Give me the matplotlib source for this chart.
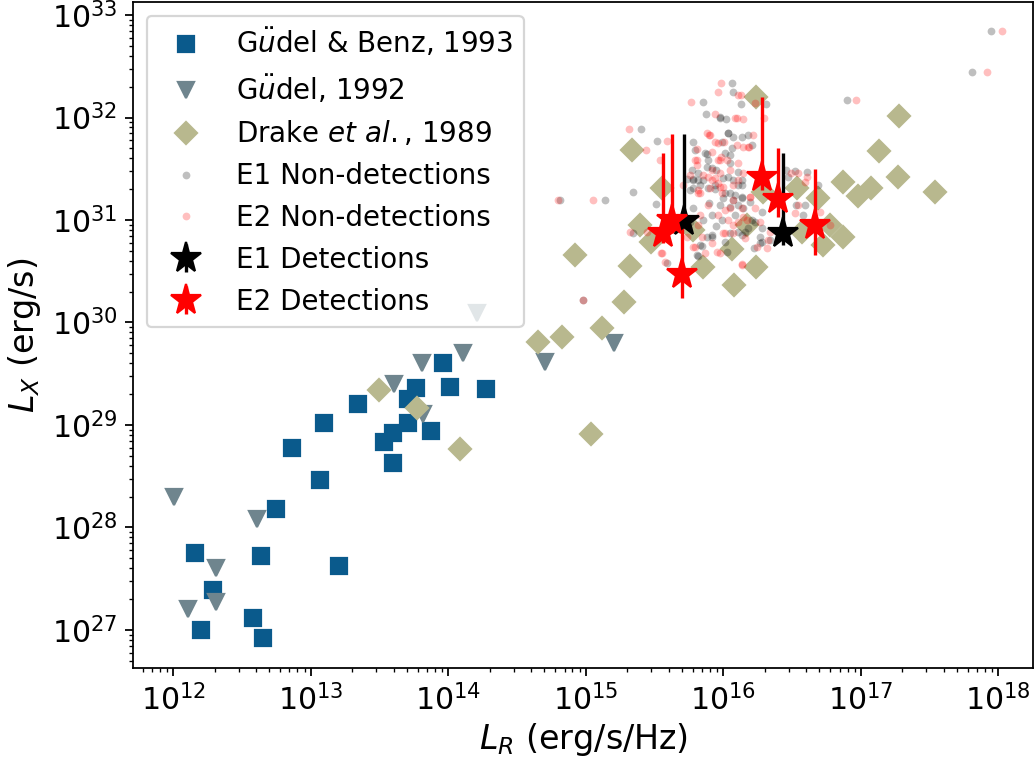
import numpy as np
import matplotlib
matplotlib.use("Agg")
import matplotlib.pyplot as plt

# ---- Data (log10 values) ----
# Gudel & Benz 1993 (squares)
gb93_logLR = [12.158, 12.287, 12.199, 12.577, 12.655, 12.636, 12.747, 13.067, 12.865, 13.096, 13.205,
              13.345, 13.535, 13.596, 13.596, 13.705, 13.705, 13.765, 13.874, 13.964, 14.012, 14.274]
gb93_logLX = [27.748, 27.390, 27.000, 27.120, 26.919, 27.725, 28.178, 28.463, 28.773, 29.017, 27.627,
              29.205, 28.831, 28.925, 28.632, 29.022, 29.254, 29.361, 28.944, 29.602, 29.371, 29.351]

# Gudel 1992 (triangles)
g92_logLR = [12.007, 12.607, 12.308, 12.109, 12.308, 13.605, 13.807, 14.105, 13.818, 14.207, 14.703, 15.205]
g92_logLX = [28.300, 28.083, 27.602, 27.202, 27.276, 29.400, 29.602, 29.700, 29.105, 30.096, 29.615, 29.800]

# Drake et al. 1989 (diamonds)
d89_logLR = [13.496, 13.770, 14.085, 14.655, 14.825, 15.038, 15.116, 15.280, 14.921, 15.321, 15.334,
             15.394, 15.472, 15.552, 15.782, 15.855, 16.061, 16.080, 16.170, 16.236, 16.236, 16.534,
             16.570, 16.691, 16.727, 16.776, 16.873, 16.868, 16.982, 17.076, 17.132, 17.271, 17.280,
             17.540, 16.289]
d89_logLX = [29.341, 29.163, 28.763, 29.813, 29.861, 28.912, 29.943, 30.203, 30.659, 30.551, 31.683,
             30.951, 30.788, 31.309, 30.902, 30.544, 30.714, 30.366, 30.951, 30.539, 32.203, 31.309,
             30.886, 31.212, 30.756, 30.951, 30.837, 31.368, 31.234, 31.309, 31.676, 31.417, 32.018,
             31.276, 31.273]

# E1 non-detections
e1n_logLR = [17.945, 17.809, 16.902, 14.812, 15.139, 15.399, 15.341, 14.979, 15.516, 15.511, 15.345,
             15.819, 16.065, 16.072, 16.126, 15.855, 15.872, 15.976, 15.778, 16.031, 15.988, 16.060,
             16.048, 15.891, 15.946, 16.048, 15.819, 15.776, 15.758, 15.940, 16.036, 16.108, 16.133,
             16.085, 16.310, 16.019, 16.177, 16.206, 15.879, 15.915, 15.782, 15.738, 15.831, 16.000,
             16.073, 15.940, 16.048, 16.133, 16.000, 15.898, 16.048, 16.145, 15.915, 15.988, 16.206,
             15.855, 16.278, 16.339, 16.267, 16.133, 16.048, 15.915, 15.843, 16.521, 16.456, 16.473,
             16.607, 16.692, 16.194, 16.278, 16.230, 16.157, 16.280, 16.223, 16.532, 16.593, 16.580,
             16.108, 15.782, 16.108, 16.073, 15.976, 15.831, 15.807, 15.589, 16.025,
             15.973, 15.819, 15.879, 16.133, 16.108, 16.133, 15.915, 16.036, 16.267,
             15.795, 15.867, 16.012, 15.879, 15.770, 15.855, 15.782, 16.012, 15.891, 16.073, 16.133,
             15.946, 16.085, 16.180, 15.758, 16.012]
e1n_logLX = [32.841, 32.444, 32.171, 31.195, 31.195, 31.888, 31.270, 30.220, 31.771, 31.156, 30.870,
             30.648, 32.340, 32.252, 32.129, 32.148, 32.031, 31.992, 31.764, 31.846, 31.764, 31.700,
             31.634, 31.585, 31.488, 31.553, 31.390, 31.390, 31.293, 31.341, 31.422, 31.471, 31.341,
             31.244, 32.129, 31.983, 31.829, 31.732, 31.644, 31.505, 31.397, 31.397, 31.341, 31.407,
             31.390, 31.300, 31.261, 31.212, 31.212, 31.163, 31.130, 31.114, 31.049, 31.000, 31.000,
             31.000, 30.919, 30.805, 30.837, 30.854, 30.870, 30.837, 30.746, 31.480, 31.483, 31.422,
             31.471, 31.341, 31.178, 31.081, 30.983, 30.886, 30.785, 30.724, 31.146, 31.146, 31.049,
             30.886, 31.114, 31.146, 31.195, 31.146, 30.756, 30.659, 30.578, 30.691,
             32.002, 31.455, 30.837, 31.390, 31.341, 31.227, 30.854, 31.846, 30.776,
             31.683, 31.651, 31.651, 31.520, 31.488, 31.390, 31.309, 31.260, 31.309, 31.813, 31.813,
             30.941, 31.049, 30.922, 30.980, 30.785]

# E2 non-detections
e2n_logLR = [18.027, 17.920, 16.963, 14.800, 15.055, 15.312, 14.979, 15.981, 15.762, 15.959, 16.108,
             15.940, 16.085, 16.145, 15.435, 15.589, 15.807, 15.898, 15.940, 16.008, 15.983, 15.794,
             15.915, 15.855, 15.964, 16.000, 16.073, 15.819, 15.540, 16.145, 16.182, 15.973, 16.108,
             16.145, 15.976, 15.758, 15.915, 15.904, 15.819, 16.194, 16.073, 16.145, 16.012, 15.964,
             16.230, 16.073, 15.819, 15.734, 16.000, 16.339, 16.243, 15.782, 16.545, 16.218, 16.298,
             16.101, 16.230, 16.607, 16.593, 16.133, 16.170, 16.108, 16.326, 16.314, 16.521, 16.545,
             16.776, 16.703, 16.133, 15.442, 15.321, 15.988, 16.048, 15.831, 15.843, 16.073, 15.951,
             15.552, 15.576, 15.976, 15.867,
             15.904, 15.964, 15.807, 15.976, 16.130, 16.101, 16.189, 16.494, 16.191, 15.831, 16.012,
             15.794, 15.546, 16.138,
             15.879, 15.915, 15.964, 16.025, 15.891, 15.940, 16.048, 16.108, 15.807, 15.709,
             15.886, 16.036, 16.157, 15.918, 16.267]
e2n_logLX = [32.841, 32.444, 32.171, 31.195, 31.195, 31.888, 30.220, 32.340, 32.148, 32.252, 32.220,
             32.031, 31.998, 31.982, 31.683, 31.771, 31.690, 31.829, 31.764, 31.764, 31.612, 31.585,
             31.488, 31.439, 31.358, 31.325, 31.341, 31.293, 31.585, 31.716, 31.716, 31.585, 31.553,
             31.455, 31.455, 31.439, 31.390, 31.309, 31.261, 31.227, 31.195, 31.032, 31.097, 31.049,
             31.114, 30.951, 30.951, 30.837, 30.870, 30.886, 30.740, 30.740, 31.455, 31.829, 31.992,
             31.732, 32.139, 31.422, 31.373, 31.114, 31.000, 30.983, 30.805, 30.724, 31.065, 31.146,
             30.951, 31.081, 30.561, 30.886, 30.886, 31.261, 31.114, 31.049, 30.837, 30.870, 30.691,
             30.675, 30.593, 30.681, 30.681,
             31.829, 31.747, 31.585, 31.325, 32.220, 31.992, 31.716, 31.455, 31.227, 31.261, 30.870,
             30.740, 30.675, 30.568,
             31.846, 31.667, 31.585, 31.585, 31.422, 31.407, 31.488, 31.390, 31.537, 31.341,
             31.146, 31.000, 30.824, 30.776, 30.980]

# E1 detections (log values, with lower/upper bounds)
e1d_logLR = [15.716, 16.436]
e1d_logLX = [30.990, 30.876]
e1d_lo = [30.922, 30.756]
e1d_hi = [31.839, 31.651]

# E2 detections
e2d_logLR = [15.564, 15.625, 15.697, 16.284, 16.400, 16.667]
e2d_logLX = [30.870, 31.000, 30.473, 31.417, 31.202, 30.951]
e2d_lo = [30.776, 30.873, 30.239, 31.293, 31.032, 30.659]
e2d_hi = [31.651, 31.839, 30.922, 32.203, 31.700, 31.495]

labels = [r"G$\ddot{u}$del & Benz, 1993", r"G$\ddot{u}$del, 1992", r"Drake $et\ al.$, 1989",
          "E1 Non-detections", "E2 Non-detections", "E1 Detections", "E2 Detections"]


def p(a):
    return 10.0 ** np.asarray(a, dtype=float)


plt.rcParams['font.family'] = ['DejaVu Sans']
fig = plt.figure(figsize=(1035 / 160, 761 / 160), dpi=160)
ax = fig.add_axes([133 / 1035, (761 - 668.3) / 761, (1033 - 133) / 1035, (668.3 - 2) / 761])

h1, = ax.plot(p(gb93_logLR), p(gb93_logLX), 's', color='#0a5a8c', ms=7.5, mec='#0a5a8c', ls='none')
h2, = ax.plot(p(g92_logLR), p(g92_logLX), 'v', color='#6f858e', ms=7.5, ls='none')
h3, = ax.plot(p(d89_logLR), p(d89_logLX), 'D', color='#b8b88e', ms=6.8, ls='none')
h4, = ax.plot(p(e1n_logLR), p(e1n_logLX), 'o', color='k', alpha=0.25, ms=3.5, mew=0, ls='none')
h5, = ax.plot(p(e2n_logLR), p(e2n_logLX), 'o', color='r', alpha=0.25, ms=3.5, mew=0, ls='none')

y1 = p(e1d_logLX)
h6 = ax.errorbar(p(e1d_logLR), y1, yerr=[y1 - p(e1d_lo), p(e1d_hi) - y1], fmt='*', color='k',
                 ms=14, elinewidth=1.5, capsize=0)
y2 = p(e2d_logLX)
h7 = ax.errorbar(p(e2d_logLR), y2, yerr=[y2 - p(e2d_lo), p(e2d_hi) - y2], fmt='*', color='r',
                 ms=14, elinewidth=1.5, capsize=0)

ax.set_xscale('log')
ax.set_yscale('log')
ax.set_xlim(10 ** 11.707, 10 ** 18.252)
ax.set_ylim(10 ** 26.626, 10 ** 33.127)
ax.tick_params(labelsize=13.5)
ax.set_xlabel(r"$L_R$ (erg/s/Hz)", fontsize=15, labelpad=2)
ax.set_ylabel(r"$L_X$ (erg/s)", fontsize=15)

ax.legend([h1, h2, h3, h4, h5, h6, h7], labels, loc='upper left', fontsize=12.5)

fig.savefig('out.png', dpi=160)
